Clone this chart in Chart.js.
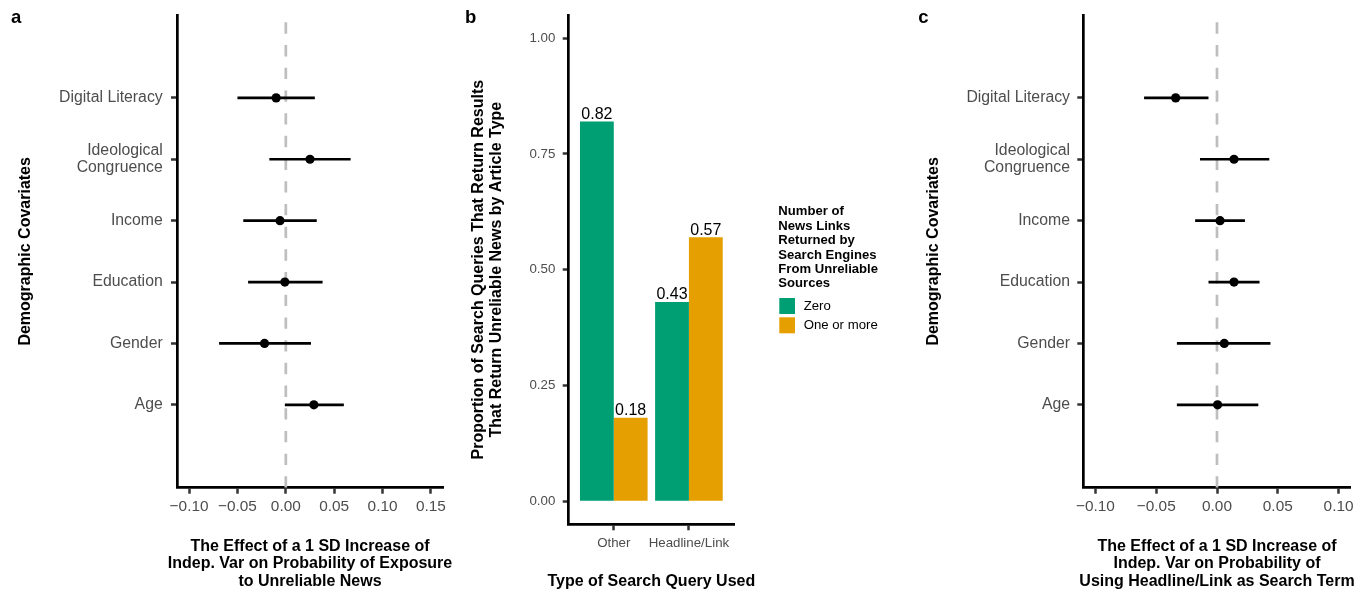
<!DOCTYPE html>
<html><head><meta charset="utf-8">
<script src="https://cdn.jsdelivr.net/npm/chart.js@4"></script>
<style>
html,body{margin:0;padding:0;background:#fff;width:1370px;height:594px;overflow:hidden}
.panel{position:absolute;top:0}
canvas{display:block}
</style></head><body>
<div class="panel" style="left:0px"><canvas id="pa" width="455" height="594" style="width:455px;height:594px"></canvas></div>
<div class="panel" style="left:455px"><canvas id="pb" width="455" height="594" style="width:455px;height:594px"></canvas></div>
<div class="panel" style="left:910px"><canvas id="pc" width="460" height="594" style="width:460px;height:594px"></canvas></div>
<script>
// ---------- data ----------
const covariates = ['Digital Literacy', 'Ideological\nCongruence', 'Income', 'Education', 'Gender', 'Age'];

// panel a: exposure to unreliable news
const exposureEstimate = [-0.010, 0.025, -0.006, -0.001, -0.022, 0.029];
const exposureLow      = [-0.050, -0.017, -0.044, -0.039, -0.069, -0.001];
const exposureHigh     = [0.030, 0.067, 0.032, 0.038, 0.026, 0.060];
const exposureTicks    = [-0.10, -0.05, 0.00, 0.05, 0.10, 0.15];

// panel c: using headline/link as search term
const headlineEstimate = [-0.034, 0.014, 0.0025, 0.014, 0.006, 0.0005];
const headlineLow      = [-0.060, -0.014, -0.018, -0.007, -0.033, -0.033];
const headlineHigh     = [-0.007, 0.043, 0.023, 0.035, 0.044, 0.034];
const headlineTicks    = [-0.10, -0.05, 0.00, 0.05, 0.10];

const referenceX = 0;

// panel b: proportion of queries
const queryTypes     = ['Other', 'Headline/Link'];
const zeroShare      = [0.82, 0.43];
const oneOrMoreShare = [0.18, 0.57];
const shareTicks     = [0.00, 0.25, 0.50, 0.75, 1.00];
const legendTitle    = ['Number of', 'News Links', 'Returned by', 'Search Engines', 'From Unreliable', 'Sources'];
const seriesNames    = ['Zero', 'One or more'];

// ---------- styling ----------
const F = '"Liberation Sans", Arial, Helvetica, sans-serif';
Chart.defaults.font.family = F;
const GREEN = '#009E73', ORANGE = '#E69F00';
const TICKTXT = '#4D4D4D';

const minusFmt = v => Number(v).toFixed(2).replace('-', '\u2212');

const letterPlugin = {
  id: 'panelLetter',
  afterDraw(chart, args, opts) {
    if (!opts || !opts.text) return;
    const ctx = chart.ctx;
    ctx.save();
    ctx.font = 'bold 18.5px ' + F;
    ctx.fillStyle = '#000';
    ctx.textBaseline = 'alphabetic';
    ctx.textAlign = 'left';
    ctx.fillText(opts.text, opts.x, opts.y);
    ctx.restore();
  }
};

// x-axis title drawn without width squeezing, centred under the plot area
const xTitlePlugin = {
  id: 'xTitle',
  afterDraw(chart, args, opts) {
    if (!opts || !opts.lines) return;
    const ctx = chart.ctx;
    const a = chart.chartArea;
    const cx = (a.left + a.right) / 2;
    ctx.save();
    ctx.font = 'bold 16px ' + F;
    ctx.fillStyle = '#000';
    ctx.textAlign = 'center';
    ctx.textBaseline = 'middle';
    const n = opts.lines.length;
    opts.lines.forEach((t, k) => ctx.fillText(t, cx, opts.lastY - (n - 1 - k) * opts.lh));
    ctx.restore();
  }
};

function forestChart(id, est, lo, hi, xTicks, xMin, xMax, xTitle, geo) {
  const yMin = -1.35, yMax = covariates.length - 1 + 1.35;
  const datasets = [];
  datasets.push({
    data: est.map((v, i) => ({x: v, y: i})),
    showLine: false, pointRadius: 4.6, pointBackgroundColor: '#000',
    pointBorderWidth: 0, order: 0
  });
  covariates.forEach((c, i) => datasets.push({
    data: [{x: lo[i], y: i}, {x: hi[i], y: i}],
    borderColor: '#000', borderWidth: 2.7, pointRadius: 0, order: 1
  }));
  datasets.push({
    data: [{x: referenceX, y: yMax}, {x: referenceX, y: yMin}],
    borderColor: '#BEBEBE', borderWidth: 2.7, borderDash: [11.35, 11.35],
    pointRadius: 0, order: 2
  });
  return new Chart(document.getElementById(id), {
    type: 'line',
    data: {datasets},
    plugins: [letterPlugin, xTitlePlugin],
    options: {
      responsive: false, animation: false, events: [],
      layout: {padding: {left: geo.padLeft, right: geo.padRight, top: 15, bottom: 0}},
      plugins: {
        legend: {display: false}, tooltip: {enabled: false},
        panelLetter: geo.letter,
        xTitle: {lines: xTitle, lh: 17.3, lastY: 581.3}
      },
      scales: {
        x: {
          type: 'linear', min: xMin, max: xMax, bounds: 'data',
          afterBuildTicks: s => { s.ticks = xTicks.map(v => ({value: v})); },
          ticks: {callback: v => minusFmt(v), color: TICKTXT, autoSkip: false, maxRotation: 0,
                  font: {size: 15.4, lineHeight: 1.077}, padding: 4.7},
          grid: {display: true, drawOnChartArea: false, drawTicks: true, tickLength: 6, tickColor: '#333', tickWidth: 2.5},
          border: {display: true, color: '#000', width: 2.7},
          title: {display: false},
          afterFit: s => { s.height = 594 - 487.7; s.paddingLeft = 0; s.paddingRight = 0; }
        },
        y: {
          type: 'linear', reverse: true, min: yMin, max: yMax, bounds: 'data',
          afterBuildTicks: s => { s.ticks = covariates.map((c, i) => ({value: i})); },
          ticks: {callback: v => covariates[v].split('\n'), color: TICKTXT, autoSkip: false,
                  font: {size: 15.8, lineHeight: 1.06}, padding: geo.yTickPad},
          grid: {display: true, drawOnChartArea: false, drawTicks: true, tickLength: 6, tickColor: '#333', tickWidth: 2.5},
          border: {display: true, color: '#000', width: 2.7},
          title: {display: true, text: 'Demographic Covariates', color: '#000',
                  font: {size: 16, weight: 'bold', lineHeight: 1.1}, padding: {top: geo.yTitlePad, bottom: 0}},
          afterFit: s => { s.width = geo.yWidth; s.paddingTop = 0; s.paddingBottom = 0; }
        }
      }
    }
  });
}

forestChart('pa', exposureEstimate, exposureLow, exposureHigh, exposureTicks, -0.1125, 0.1625,
  ['The Effect of a 1 SD Increase of', 'Indep. Var on Probability of Exposure', 'to Unreliable News'],
  {padLeft: 8, padRight: 12, yWidth: 169, yTickPad: 8.3, yTitlePad: 9.2, letter: {text: 'a', x: 11, y: 23.3}});

forestChart('pc', headlineEstimate, headlineLow, headlineHigh, headlineTicks, -0.11, 0.11,
  ['The Effect of a 1 SD Increase of', 'Indep. Var on Probability of', 'Using Headline/Link as Search Term'],
  {padLeft: 6, padRight: 19.3, yWidth: 167.3, yTickPad: 7.3, yTitlePad: 8.5, letter: {text: 'c', x: 8.3, y: 23.3}});

// ---------- panel b ----------
const barLabelPlugin = {
  id: 'barLabels',
  afterDatasetsDraw(chart) {
    const ctx = chart.ctx;
    ctx.save();
    ctx.font = '16px ' + F;
    ctx.fillStyle = '#000';
    ctx.textAlign = 'center';
    ctx.textBaseline = 'alphabetic';
    chart.data.datasets.forEach((ds, di) => {
      chart.getDatasetMeta(di).data.forEach((el, j) => {
        ctx.fillText(ds.data[j].y.toFixed(2), el.x, el.y - 2.6);
      });
    });
    ctx.restore();
  }
};
const sideLegendPlugin = {
  id: 'sideLegend',
  afterDraw(chart) {
    const ctx = chart.ctx;
    const x0 = 323.3;
    ctx.save();
    ctx.fillStyle = '#000';
    ctx.textAlign = 'left';
    ctx.textBaseline = 'middle';
    ctx.font = 'bold 13.1px ' + F;
    legendTitle.forEach((t, k) => ctx.fillText(t, x0, 211.7 + k * 14.4));
    ctx.font = '13.2px ' + F;
    chart.data.datasets.forEach((ds, k) => {
      const top = 298 + k * 19.3;
      ctx.fillStyle = ds.backgroundColor;
      ctx.fillRect(x0 + 1, top, 15.7, 16);
      ctx.fillStyle = '#000';
      ctx.fillText(ds.label, x0 + 25.4, top + 8);
    });
    ctx.restore();
  }
};

new Chart(document.getElementById('pb'), {
  type: 'bar',
  data: {
    datasets: [
      {label: seriesNames[0], data: queryTypes.map((c, i) => ({x: i, y: zeroShare[i]})),
       backgroundColor: GREEN, borderWidth: 0, categoryPercentage: 0.9, barPercentage: 1},
      {label: seriesNames[1], data: queryTypes.map((c, i) => ({x: i, y: oneOrMoreShare[i]})),
       backgroundColor: ORANGE, borderWidth: 0, categoryPercentage: 0.9, barPercentage: 1}
    ]
  },
  plugins: [barLabelPlugin, sideLegendPlugin, letterPlugin, xTitlePlugin],
  options: {
    responsive: false, animation: false, events: [],
    layout: {padding: {left: 8, right: 176, top: 15, bottom: 0}},
    plugins: {legend: {display: false}, tooltip: {enabled: false},
              panelLetter: {text: 'b', x: 10, y: 22.7},
              xTitle: {lines: ['Type of Search Query Used'], lh: 17.3, lastY: 581.7}},
    scales: {
      x: {
        type: 'linear', min: -0.6, max: queryTypes.length - 1 + 0.6, bounds: 'data', offset: false,
        afterBuildTicks: s => { s.ticks = queryTypes.map((c, i) => ({value: i})); },
        ticks: {callback: v => queryTypes[v], color: TICKTXT, autoSkip: false, maxRotation: 0,
                font: {size: 13.3, lineHeight: 1.077}, padding: 5.84},
        grid: {display: true, offset: false, drawOnChartArea: false, drawTicks: true, tickLength: 6, tickColor: '#333', tickWidth: 2.5},
        border: {display: true, color: '#000', width: 2.7},
        title: {display: false},
        afterFit: s => { s.height = 594 - 524.3; s.paddingLeft = 0; s.paddingRight = 0; }
      },
      y: {
        type: 'linear', min: -0.05, max: 1.05, bounds: 'data',
        afterBuildTicks: s => { s.ticks = shareTicks.map(v => ({value: v})); },
        ticks: {callback: v => Number(v).toFixed(2), color: TICKTXT, autoSkip: false,
                font: {size: 13.3, lineHeight: 1.077}, padding: 7.4},
        grid: {display: true, drawOnChartArea: false, drawTicks: true, tickLength: 6, tickColor: '#333', tickWidth: 2.5},
        border: {display: true, color: '#000', width: 2.7},
        title: {display: true,
                text: ['Proportion of Search Queries That Return Results', 'That Return Unreliable News by Article Type'],
                color: '#000', font: {size: 16, weight: 'bold', lineHeight: 1.1}, padding: {top: 7.2, bottom: 0}},
        afterFit: s => { s.width = 113.7 - 8; s.paddingTop = 0; s.paddingBottom = 0; }
      }
    }
  }
});
</script>
</body></html>
